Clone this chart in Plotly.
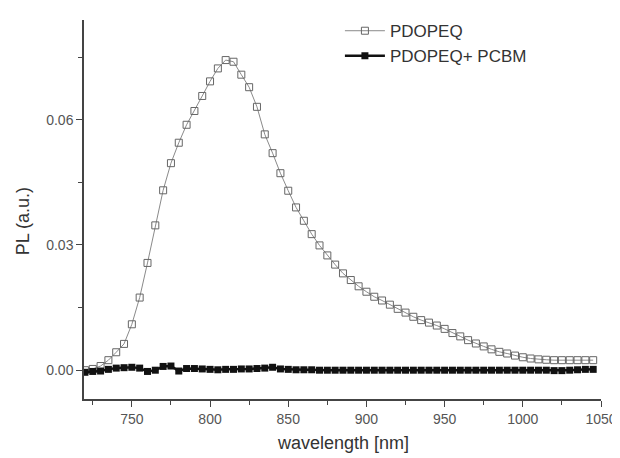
import plotly.graph_objects as go

wavelength = [720, 725, 730, 735, 740, 745, 750, 755, 760, 765, 770, 775, 780, 785, 790, 795,
              800, 805, 810, 815, 820, 825, 830, 835, 840, 845, 850, 855, 860, 865, 870, 875,
              880, 885, 890, 895, 900, 905, 910, 915, 920, 925, 930, 935, 940, 945, 950, 955,
              960, 965, 970, 975, 980, 985, 990, 995, 1000, 1005, 1010, 1015, 1020, 1025, 1030,
              1035, 1040, 1045]

pdopeq = [0.0000, 0.0003, 0.0010, 0.0024, 0.0043, 0.0063, 0.0110, 0.0174, 0.0257, 0.0347,
          0.0431, 0.0496, 0.0545, 0.0588, 0.0621, 0.0657, 0.0692, 0.0723, 0.0743, 0.0739,
          0.0708, 0.0678, 0.0631, 0.0565, 0.0520, 0.0472, 0.0430, 0.0390, 0.0358, 0.0326,
          0.0299, 0.0275, 0.0253, 0.0232, 0.0216, 0.0201, 0.0188, 0.0176, 0.0167, 0.0157,
          0.0147, 0.0138, 0.0128, 0.0120, 0.0114, 0.0107, 0.0099, 0.0089, 0.0081, 0.0072,
          0.0064, 0.0057, 0.0050, 0.0044, 0.0040, 0.0035, 0.0031, 0.0028, 0.0026, 0.0025,
          0.0024, 0.0024, 0.0024, 0.0024, 0.0024, 0.0024]

pdopeq_pcbm = [-0.0005, -0.0003, -0.0002, 0.0002, 0.0005, 0.0006, 0.0007, 0.0005, -0.0003, 0.0000,
               0.0009, 0.0010, -0.0002, 0.0004, 0.0004, 0.0003, 0.0002, 0.0001, 0.0002, 0.0002,
               0.0003, 0.0003, 0.0004, 0.0005, 0.0007, 0.0003, 0.0002, 0.0001, 0.0001, 0.0001,
               0.0000, 0.0000, 0.0000, 0.0000, 0.0000, 0.0000, 0.0000, 0.0000, 0.0000, 0.0000,
               0.0000, 0.0000, 0.0000, 0.0000, 0.0000, 0.0000, 0.0000, 0.0000, 0.0000, 0.0000,
               0.0000, 0.0000, 0.0000, 0.0000, 0.0000, 0.0000, 0.0000, 0.0000, 0.0000, 0.0000,
               -0.0001, -0.0001, 0.0000, 0.0001, 0.0002, 0.0002]

x_ticks = [750, 800, 850, 900, 950, 1000, 1050]
y_ticks = [0.00, 0.03, 0.06]
y_tick_labels = ["0.00", "0.03", "0.06"]

FONT = "Liberation Sans, Arial, sans-serif"
AXIS_COLOR = "#444444"
TEXT_COLOR = "#555555"

fig = go.Figure()
fig.add_trace(go.Scatter(
    x=wavelength, y=pdopeq, name="PDOPEQ", mode="lines+markers",
    line=dict(color="#8a8a8a", width=1),
    marker=dict(symbol="square-open", size=7, color="#666666", line=dict(width=1)),
))
fig.add_trace(go.Scatter(
    x=wavelength, y=pdopeq_pcbm, name="PDOPEQ+ PCBM", mode="lines+markers",
    line=dict(color="#111111", width=2.5),
    marker=dict(symbol="square", size=7, color="#111111"),
))

fig.update_layout(
    width=620, height=458,
    margin=dict(l=76, r=27, t=5, b=67),
    paper_bgcolor="white", plot_bgcolor="white",
    font=dict(family=FONT, color=TEXT_COLOR, size=14),
    showlegend=True,
    legend=dict(
        x=0.495, y=1.018, xanchor="left", yanchor="top",
        bgcolor="rgba(0,0,0,0)", font=dict(size=17, color="#333333"),
        itemwidth=40, tracegroupgap=0,
    ),
    xaxis=dict(
        range=[719.4, 1050], tickvals=x_ticks, ticks="outside", ticklen=6, tickwidth=1.2,
        tickcolor=AXIS_COLOR, showline=True, linecolor=AXIS_COLOR, linewidth=1.5,
        showgrid=False, zeroline=False,
        minor=dict(dtick=25, tick0=725, ticks="outside", ticklen=4, tickcolor=AXIS_COLOR, showgrid=False),
        tickfont=dict(size=14, color=TEXT_COLOR),
    ),
    yaxis=dict(
        range=[-0.0069, 0.0839], tickvals=y_ticks, ticktext=y_tick_labels, ticks="outside",
        ticklen=6, tickwidth=1.2, tickcolor=AXIS_COLOR, showline=True, linecolor=AXIS_COLOR,
        linewidth=1.5, showgrid=False, zeroline=False,
        minor=dict(dtick=0.015, tick0=0.0, ticks="outside", ticklen=4, tickcolor=AXIS_COLOR, showgrid=False),
        tickfont=dict(size=14, color=TEXT_COLOR),
    ),
    annotations=[
        dict(text="PL (a.u.)", xref="paper", yref="paper", x=-0.118, y=0.469,
             xanchor="center", yanchor="middle",
             textangle=-90, showarrow=False, font=dict(size=18, color="#333333")),
        dict(text="wavelength [nm]", xref="paper", yref="paper", x=0.5, y=-0.1166,
             xanchor="center", yanchor="middle",
             showarrow=False, font=dict(size=18, color="#333333")),
    ],
)

fig.write_html("out.html")
